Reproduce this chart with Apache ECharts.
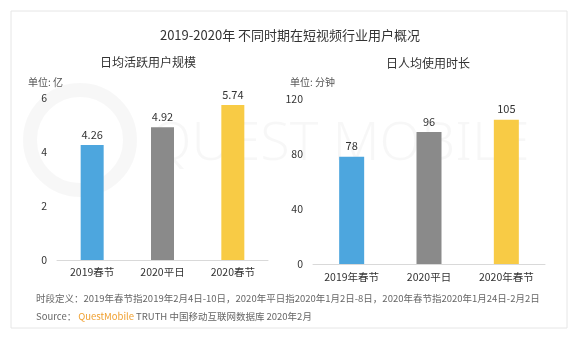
<!DOCTYPE html>
<html><head><meta charset="utf-8">
<script src="https://cdn.jsdelivr.net/npm/echarts@6/dist/echarts.min.js"></script>
<style>html,body{margin:0;padding:0;background:#fff}#c{width:580px;height:342px}</style>
</head><body><div id="c"></div>
<script>
var catsLeft = ['2019春节', '2020平日', '2020春节'];
var catsRight = ['2019年春节', '2020平日', '2020年春节'];
var dau = [4.26, 4.92, 5.74];
var minutes = [78, 96, 105];
var barColors = ['#4DA6DE', '#8A8A8A', '#F8CB45'];
var font = '"Noto Sans CJK SC", "Noto Sans", sans-serif';

function mk(vals){
  return vals.map(function(v,i){return {value:v,itemStyle:{color:barColors[i]}};});
}
var chart = echarts.init(document.getElementById('c'), null, {renderer:'canvas'});
chart.setOption({
  backgroundColor:'#fff',
  textStyle:{fontFamily:font},
  animation:false,
  graphic:[
    {type:'rect',shape:{x:11,y:11,width:556,height:317},style:{fill:'#fff',stroke:'#e6e6e6',lineWidth:1},z:-10},
    {type:'circle',shape:{cx:80,cy:140,r:50},style:{fill:'none',stroke:'rgba(0,0,0,0.03)',lineWidth:14},z:-5},
    {type:'text',x:150,y:118,style:{text:'QUEST MOBILE',font:'300 54px "Noto Sans", sans-serif',fill:'rgba(0,0,0,0.03)'},z:-5},
    {type:'text',x:290,y:35,style:{text:'2019-2020年 不同时期在短视频行业用户概况',font:'13px '+font,fill:'#333',align:'center',verticalAlign:'middle'}},
    {type:'text',x:148,y:62,style:{text:'日均活跃用户规模',font:'12px '+font,fill:'#333',align:'center',verticalAlign:'middle'}},
    {type:'text',x:428,y:63,style:{text:'日人均使用时长',font:'12px '+font,fill:'#333',align:'center',verticalAlign:'middle'}},
    {type:'text',x:28,y:82,style:{text:'单位: 亿',font:'10px '+font,fill:'#555',verticalAlign:'middle'}},
    {type:'text',x:290,y:82,style:{text:'单位: 分钟',font:'10px '+font,fill:'#555',verticalAlign:'middle'}},
    {type:'text',x:36,y:298,style:{text:'时段定义：2019年春节指2019年2月4日-10日，2020年平日指2020年1月2日-8日，2020年春节指2020年1月24日-2月2日',font:'9.5px '+font,fill:'#666',verticalAlign:'middle'}},
    {type:'text',x:36,y:316,style:{text:'{a|Source：}{b|QuestMobile}{a| TRUTH 中国移动互联网数据库 2020年2月}',verticalAlign:'middle',
      rich:{a:{fontSize:9.5,fontFamily:font,fill:'#666',color:'#666'},b:{fontSize:9.5,fontFamily:font,color:'#F0A030',fill:'#F0A030',padding:[0,0,0,2]}}}}
  ],
  grid:[
    {left:57,right:312,top:98,height:162},
    {left:313,right:35,top:99,height:165}
  ],
  xAxis:[
    {type:'category',gridIndex:0,data:catsLeft,axisTick:{show:false},axisLine:{lineStyle:{color:'#d9d9d9'}},axisLabel:{color:'#333',fontSize:10.5,margin:7}},
    {type:'category',gridIndex:1,data:catsRight,axisTick:{show:false},axisLine:{lineStyle:{color:'#d9d9d9'}},axisLabel:{color:'#333',fontSize:10.5,margin:8}}
  ],
  yAxis:[
    {type:'value',gridIndex:0,min:0,max:6,interval:2,splitLine:{show:false},axisLine:{show:false},axisTick:{show:false},axisLabel:{color:'#333',fontSize:10.5,margin:10}},
    {type:'value',gridIndex:1,min:0,max:120,interval:40,splitLine:{show:false},axisLine:{show:false},axisTick:{show:false},axisLabel:{color:'#333',fontSize:10.5,margin:10}}
  ],
  series:[
    {type:'bar',xAxisIndex:0,yAxisIndex:0,data:mk(dau),barWidth:23,label:{show:true,position:'top',color:'#333',fontSize:11,distance:5}},
    {type:'bar',xAxisIndex:1,yAxisIndex:1,data:mk(minutes),barWidth:25,label:{show:true,position:'top',color:'#333',fontSize:11,distance:5}}
  ]
});
</script></body></html>
